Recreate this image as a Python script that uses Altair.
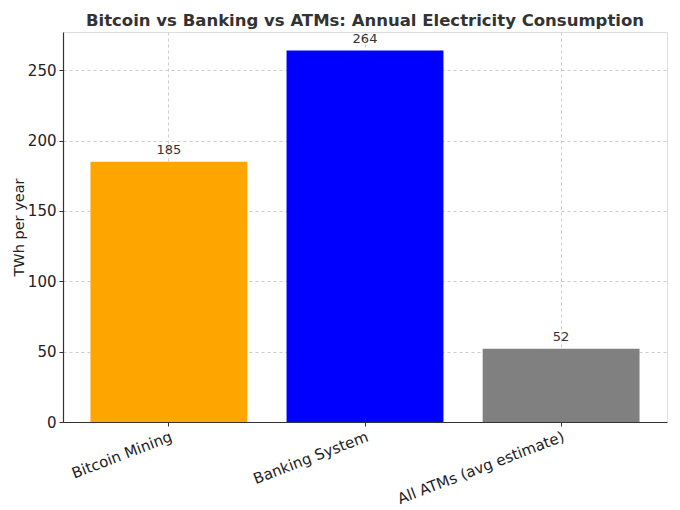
import altair as alt
import pandas as pd

categories = ["Bitcoin Mining", "Banking System", "All ATMs (avg estimate)"]
values = [185, 264, 52]
colors = ["#FFA500", "#0000FF", "#808080"]

df = pd.DataFrame({"cat": categories, "val": values, "color": colors})

FONT = "DejaVu Sans"

x = alt.X(
    "cat:N",
    sort=categories,
    title=None,
    scale=alt.Scale(paddingInner=0.2, paddingOuter=0.14),
    axis=alt.Axis(
        labelAngle=-21,
        labelAlign="right",
        labelBaseline="top",
        labelFontSize=15,
        labelFont=FONT,
        labelColor="#222222",
        labelPadding=3,
        tickSize=4,
        tickColor="#333333",
        domainColor="#333333",
        domainWidth=1.2,
        grid=True,
        gridDash=[3, 3],
        gridColor="#cccccc",
        bandPosition=0.5,
    ),
)

y = alt.Y(
    "val:Q",
    title="TWh per year",
    scale=alt.Scale(domain=[0, 277.2], nice=False, zero=True),
    axis=alt.Axis(
        values=[0, 50, 100, 150, 200, 250],
        labelFontSize=15,
        labelFont=FONT,
        labelColor="#222222",
        labelPadding=3,
        tickSize=4,
        tickColor="#333333",
        domainColor="#333333",
        domainWidth=1.2,
        titleFont=FONT,
        titleFontSize=14.5,
        titleFontWeight="normal",
        titleColor="#222222",
        titlePadding=1,
        grid=True,
        gridDash=[3, 3],
        gridColor="#cccccc",
    ),
)

bars = alt.Chart(df).mark_bar().encode(
    x=x,
    y=y,
    color=alt.Color("color:N", scale=None),
)

labels = alt.Chart(df).mark_text(
    dy=-5, baseline="bottom", fontSize=13, font=FONT, color="#333333"
).encode(
    x=alt.X("cat:N", sort=categories),
    y=alt.Y("val:Q"),
    text=alt.Text("val:Q"),
)

chart = (
    alt.layer(bars, labels)
    .properties(
        width=604,
        height=390,
        title=alt.TitleParams(
            "Bitcoin vs Banking vs ATMs: Annual Electricity Consumption",
            font=FONT,
            fontSize=16.5,
            fontWeight="bold",
            color="#333333",
            anchor="middle",
            offset=3,
        ),
        autosize=alt.AutoSizeParams(type="none"),
        padding={"left": 55, "top": 24, "right": 5, "bottom": 85},
    )
    .configure_view(stroke=None)
    .configure(background="white")
)

chart.save("out.html", embed_options={"renderer": "svg", "actions": False})
